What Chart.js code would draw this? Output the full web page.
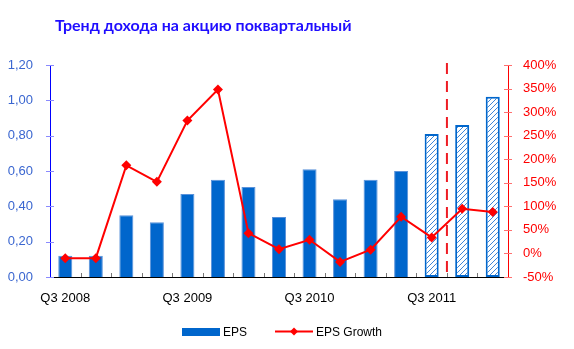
<!DOCTYPE html>
<html>
<head>
<meta charset="utf-8">
<script src="https://cdn.jsdelivr.net/npm/chart.js@4.4.1/dist/chart.umd.min.js"></script>
<style>
  body { margin: 0; background: #fff; }
  #wrap { position: relative; width: 574px; height: 349px; }
  #title {
    position: absolute; left: 55px; top: 17px;
    font: bold 16px Lato, "Open Sans", sans-serif; line-height: 16px;
    color: #1f0dff; white-space: nowrap;
  }
  #legend {
    position: absolute; left: 182px; top: 324px; height: 15px;
    display: flex; align-items: center;
    font: 12px "Liberation Sans", Arial, sans-serif; color: #000;
  }
  #legend .item { display: flex; align-items: center; }
  #legend .item + .item { margin-left: 28px; }
  #legend canvas { margin-right: 3px; }
</style>
</head>
<body>
<div id="wrap">
  <canvas id="epsChart" width="574" height="349"></canvas>
  <div id="title">Тренд дохода на акцию поквартальный</div>
  <div id="legend"></div>
</div>
<script>
// Quarterly data
const quarters = ['Q3 2008', 'Q4 2008', 'Q1 2009', 'Q2 2009', 'Q3 2009', 'Q4 2009', 'Q1 2010', 'Q2 2010',
  'Q3 2010', 'Q4 2010', 'Q1 2011', 'Q2 2011', 'Q3 2011', 'Q4 2011', 'Q1 2012'];
const eps = [0.12, 0.12, 0.35, 0.31, 0.47, 0.55, 0.51, 0.34, 0.61, 0.44, 0.55, 0.60, 0.81, 0.86, 1.02];
const epsGrowth = [-10, -10, 187, 152, 282, 348, 43, 9, 29, -18, 8, 78, 34, 95, 88];
const isForecast = [false, false, false, false, false, false, false, false, false, false, false, false, true, true, true];
const epsRange = [0, 1.2, 0.2];      // min, max, step
const growthRange = [-50, 400, 50];  // min, max, step
const labelQuarter = 'Q3';

const ctx = document.getElementById('epsChart').getContext('2d');

// diagonal hatch for forecast bars
function makeHatch() {
  const c = document.createElement('canvas');
  c.width = 5; c.height = 5;
  const g = c.getContext('2d');
  g.fillStyle = '#fff';
  g.fillRect(0, 0, 5, 5);
  g.strokeStyle = '#3f86d8';
  g.lineWidth = 1;
  g.beginPath();
  g.moveTo(0, 5); g.lineTo(5, 0);
  g.moveTo(-1, 1); g.lineTo(1, -1);
  g.moveTo(4, 6); g.lineTo(6, 4);
  g.stroke();
  return ctx.createPattern(c, 'repeat');
}
const hatch = makeHatch();

// legend icons
function barIcon() {
  const c = document.createElement('canvas');
  c.width = 38; c.height = 8;
  const g = c.getContext('2d');
  g.fillStyle = '#0066cc';
  g.fillRect(0, 0, 38, 8);
  return c;
}
function lineIcon() {
  const c = document.createElement('canvas');
  c.width = 38; c.height = 9;
  const g = c.getContext('2d');
  g.strokeStyle = '#ff0000';
  g.lineWidth = 2;
  g.beginPath(); g.moveTo(0, 4.5); g.lineTo(38, 4.5); g.stroke();
  g.fillStyle = '#ff0000';
  g.beginPath();
  g.moveTo(19, 0.5); g.lineTo(23, 4.5); g.lineTo(19, 8.5); g.lineTo(15, 4.5);
  g.closePath(); g.fill();
  return c;
}

// forecast divider + small tick marks
const extras = {
  id: 'extras',
  beforeDatasetsDraw(chart) {
    const x = chart.scales.x, area = chart.chartArea;
    const first = isForecast.indexOf(true);
    const xp = (x.getPixelForValue(first) + x.getPixelForValue(first + 1)) / 2;
    const c = chart.ctx;
    c.save();
    c.strokeStyle = '#ee1c24';
    c.lineWidth = 2;
    c.setLineDash([11, 7]);
    c.beginPath();
    c.moveTo(xp, area.top - 2);
    c.lineTo(xp, area.bottom);
    c.stroke();
    c.restore();
  },
  afterDraw(chart) {
    const {x, yEps, yGrowth} = chart.scales;
    const c = chart.ctx;
    c.save();
    c.lineWidth = 1;
    c.strokeStyle = '#8a8aff';
    yEps.ticks.forEach(t => {
      const y = Math.round(yEps.getPixelForValue(t.value)) + 0.5;
      c.beginPath(); c.moveTo(yEps.right - 4, y); c.lineTo(yEps.right + 4, y); c.stroke();
    });
    c.strokeStyle = '#ff7070';
    yGrowth.ticks.forEach(t => {
      const y = Math.round(yGrowth.getPixelForValue(t.value)) + 0.5;
      c.beginPath(); c.moveTo(yGrowth.left - 4, y); c.lineTo(yGrowth.left + 4, y); c.stroke();
    });
    c.strokeStyle = '#777';
    for (let i = 1; i < quarters.length; i++) {
      const xp = Math.round((x.getPixelForValue(i - 1) + x.getPixelForValue(i)) / 2) + 0.5;
      c.beginPath(); c.moveTo(xp, x.top); c.lineTo(xp, x.top - 4); c.stroke();
    }
    c.restore();
  }
};

Chart.defaults.font.family = '"Liberation Sans", Arial, sans-serif';
Chart.defaults.font.size = 13;

const chart = new Chart(ctx, {
  data: {
    labels: quarters,
    datasets: [{
      type: 'line',
      label: 'EPS Growth',
      data: epsGrowth,
      yAxisID: 'yGrowth',
      order: 0,
      borderColor: '#ff0000',
      borderWidth: 2,
      backgroundColor: '#ff0000',
      pointStyle: 'rectRot',
      pointRadius: 5,
      pointHoverRadius: 6,
      pointBorderWidth: 0,
      tension: 0
    }, {
      type: 'bar',
      label: 'EPS',
      data: eps,
      yAxisID: 'yEps',
      order: 1,
      backgroundColor: c => isForecast[c.dataIndex] ? hatch : '#0066cc',
      borderColor: c => isForecast[c.dataIndex] ? '#0066cc' : '#5a92da',
      borderWidth: c => isForecast[c.dataIndex] ? 2 : 1,
      borderSkipped: c => isForecast[c.dataIndex] ? false : 'bottom',
      categoryPercentage: 1,
      barPercentage: 0.46
    }]
  },
  options: {
    responsive: false,
    animation: false,
    layout: { padding: { top: 65, left: 0, right: 0, bottom: 36 } },
    plugins: {
      legend: { display: false },
      tooltip: { enabled: true }
    },
    scales: {
      x: {
        grid: { display: false, drawTicks: false },
        border: { display: true, color: '#000', width: 1 },
        ticks: {
          autoSkip: false,
          maxRotation: 0,
          padding: 14,
          color: '#000',
          callback: (v, i) => quarters[i].startsWith(labelQuarter) ? quarters[i] : ''
        },
        afterFit: s => { s.height = 36; }
      },
      yEps: {
        position: 'left',
        min: epsRange[0], max: epsRange[1],
        grid: { display: false, drawTicks: false },
        border: { display: true, color: '#0000ff', width: 1 },
        ticks: {
          stepSize: epsRange[2],
          padding: 17,
          color: '#3a66d0',
          callback: v => v.toFixed(2).replace('.', ',')
        },
        afterFit: s => { s.width = 50; }
      },
      yGrowth: {
        position: 'right',
        min: growthRange[0], max: growthRange[1],
        grid: { display: false, drawTicks: false },
        border: { display: true, color: '#ff0000', width: 1 },
        ticks: {
          stepSize: growthRange[2],
          padding: 15,
          color: '#ff0000',
          callback: v => v + '%'
        },
        afterFit: s => { s.width = 66; }
      }
    }
  },
  plugins: [extras]
});

// legend built from the chart's own datasets (bar first, as in the original)
const legend = document.getElementById('legend');
[1, 0].forEach(i => {
  const ds = chart.data.datasets[i];
  const item = document.createElement('span');
  item.className = 'item';
  item.appendChild(ds.type === 'bar' ? barIcon() : lineIcon());
  item.appendChild(document.createTextNode(ds.label));
  legend.appendChild(item);
});
</script>
</body>
</html>
